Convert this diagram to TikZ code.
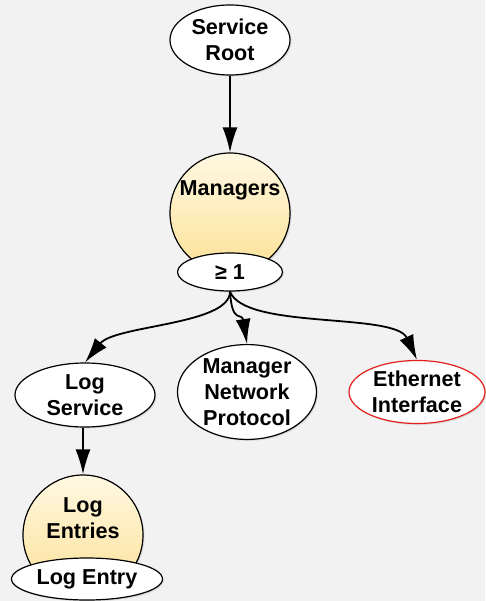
\documentclass[tikz,border=0pt]{standalone}
\usepackage{fontspec}
\setmainfont{Liberation Sans}
\usetikzlibrary{arrows.meta,shapes.geometric,shadows}
\definecolor{bgcol}{HTML}{F2F2F2}
\definecolor{resTop}{HTML}{FFF8E2}
\definecolor{resBot}{HTML}{FCE196}
\definecolor{ethRed}{HTML}{E0201B}
\tikzset{
  res/.style={ellipse,draw=black,line width=1.2pt,fill=white,inner sep=0pt,align=center,
    font=\fontsize{21.6}{26}\selectfont\bfseries,
    drop shadow={opacity=.2,shadow xshift=1.5pt,shadow yshift=-1.5pt}},
  coll/.style={circle,draw=black,line width=1.2pt,minimum size=120pt,inner sep=0pt,
    top color=resTop,bottom color=resBot,
    drop shadow={opacity=.2,shadow xshift=1.5pt,shadow yshift=-1.5pt}},
  lbl/.style={align=center,inner sep=0pt,font=\fontsize{21.6}{26}\selectfont\bfseries},
  link/.style={line width=1.8pt,-{Latex[length=25pt,width=15pt]}}
}
\begin{document}
\begin{tikzpicture}[x=1pt,y=-1pt]
%background
\fill[bgcol] (0,0) rectangle (485,601);
\useasboundingbox (0,0) rectangle (485,601);
%collections
\node[coll] (managers) at (230,213) {};
\node[lbl] (managerstxt) at (230,190) {Managers};
\node[coll] (logentries) at (83,535) {};
\node[lbl] (logentriestxt) at (83,518) {Log\\Entries};
%resources
\node[res,minimum width=120pt,minimum height=70pt] (root) at (230,40) {Service\\Root};
\node[res,minimum width=105pt,minimum height=38pt] (mgrcount) at (230,272) {≥ 1};
\node[res,minimum width=140pt,minimum height=64pt] (logsvc) at (85,395) {Log\\Service};
\node[res,minimum width=139pt,minimum height=91pt] (mnp) at (247,392) {Manager\\Network\\Protocol};
\node[res,draw=ethRed,minimum width=136pt,minimum height=63pt] (eth) at (417,392) {Ethernet\\Interface};
\node[res,minimum width=151pt,minimum height=42pt] (logentry) at (87,579) {Log Entry};
%links
\draw[link] (root.south) -- (managers.north);
\draw[link] (mgrcount.south) .. controls (230,325) and (115,325) .. (logsvc.north);
\draw[link] (mgrcount.south) .. controls (232,325) and (242,312) .. (mnp.north);
\draw[link] (mgrcount.south) .. controls (245,330) and (395,312) .. (eth.north);
\draw[link] (logentries.north |- logsvc.south) -- (logentries.north);
\end{tikzpicture}
\end{document}
